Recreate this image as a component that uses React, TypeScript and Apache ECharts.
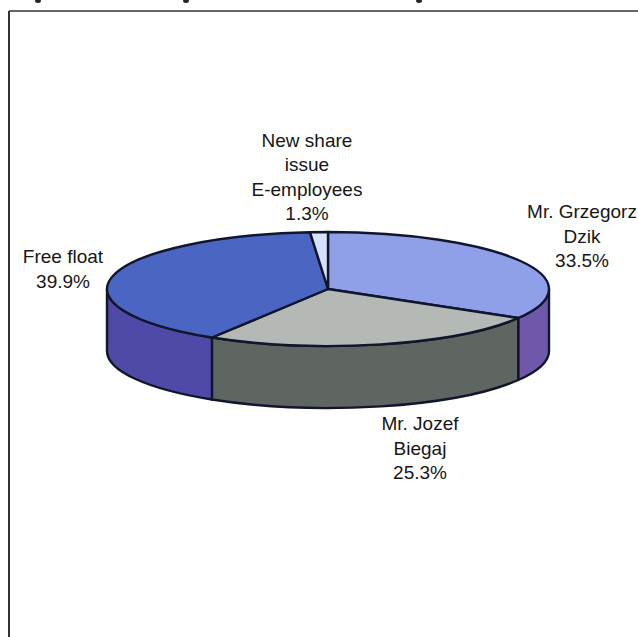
import React, { useEffect, useRef } from "react";
import * as echarts from "echarts";

// Shareholders, clockwise from twelve o'clock, with their stakes in percent.
const holders = ["Mr. Grzegorz\nDzik", "Mr. Jozef\nBiegaj", "Free float", "New share\nissue\nE-employees"];
const stakes = [33.5, 25.3, 39.9, 1.3];

// Face and wall fills per slice.
const topColors = ["#8f9fe8", "#b5b9b6", "#4a66c2", "#d6e2fb"];
const wallColors = ["#6f58aa", "#5f6661", "#4f49a8", "#8f9fc0"];

// Centre of each label block.
const labelCentres: [number, number][] = [
  [582, 236],
  [420, 448],
  [63, 269],
  [307, 177],
];

// Tails of a caption line that is cut off by the top of the page.
const captionTails = [38, 186, 419];

const PIE = { cx: 328, cy: 289, rx: 221, ry: 57, depth: 62 };
const INK = "#11162c";
const FONT = '19px "Liberation Sans", Arial, sans-serif';

const total = stakes.reduce((sum, v) => sum + v, 0);

// Rim point for an angle measured clockwise from the top of the ellipse.
const rim = (a: number, drop = 0): [number, number] => [
  PIE.cx + PIE.rx * Math.sin(a),
  PIE.cy - PIE.ry * Math.cos(a) + drop,
];

const arcTo = (from: number, to: number, drop: number, sweep: 0 | 1) => {
  const [x, y] = rim(to, drop);
  const large = Math.abs(to - from) > Math.PI ? 1 : 0;
  return `A ${PIE.rx} ${PIE.ry} 0 ${large} ${sweep} ${x} ${y}`;
};

const facePath = (a0: number, a1: number) => {
  const [x0, y0] = rim(a0);
  return `M ${PIE.cx} ${PIE.cy} L ${x0} ${y0} ${arcTo(a0, a1, 0, 1)} Z`;
};

// Only the part of a slice facing the viewer (lower half of the ellipse) has a wall.
const wallPath = (a0: number, a1: number) => {
  const from = Math.max(a0, Math.PI / 2);
  const to = Math.min(a1, (3 * Math.PI) / 2);
  if (to <= from) return null;
  const [x0, y0] = rim(from);
  const [x1, y1] = rim(to, PIE.depth);
  return `M ${x0} ${y0} ${arcTo(from, to, 0, 1)} L ${x1} ${y1} ${arcTo(to, from, PIE.depth, 0)} Z`;
};

const sliceStart = (index: number) =>
  (stakes.slice(0, index).reduce((sum, v) => sum + v, 0) / total) * Math.PI * 2;

const renderSlice = (_params: unknown, api: any) => {
  const i = api.value(0) as number;
  const value = api.value(1) as number;
  const a0 = sliceStart(i);
  const a1 = a0 + (value / total) * Math.PI * 2;
  const children: any[] = [];
  const wall = wallPath(a0, a1);
  if (wall) {
    children.push({
      type: "path",
      shape: { pathData: wall },
      style: { fill: wallColors[i], stroke: INK, lineWidth: 2.4, lineJoin: "round" },
    });
  }
  children.push({
    type: "path",
    shape: { pathData: facePath(a0, a1) },
    style: { fill: topColors[i], stroke: INK, lineWidth: 2.4, lineJoin: "round" },
  });
  const [lx, ly] = labelCentres[i];
  children.push({
    type: "text",
    style: {
      x: lx,
      y: ly,
      text: `${holders[i]}\n${value.toFixed(1)}%`,
      font: FONT,
      fill: "#161616",
      align: "center",
      verticalAlign: "middle",
      lineHeight: 24.5,
    },
  });
  return { type: "group", children };
};

export default function App() {
  const ref = useRef<HTMLDivElement>(null);

  useEffect(() => {
    document.body.style.margin = "0";
    document.body.style.overflow = "hidden";
    const chart = echarts.init(ref.current!, null, { renderer: "svg" });
    chart.setOption({
      animation: false,
      backgroundColor: "#ffffff",
      graphic: [
        // Frame around the plot; it runs off the right and bottom of the page.
        { type: "line", shape: { x1: 9, y1: 11, x2: 638, y2: 11 }, style: { stroke: "#333333", lineWidth: 1.5 } },
        { type: "line", shape: { x1: 9, y1: 11, x2: 9, y2: 637 }, style: { stroke: "#333333", lineWidth: 2 } },
        ...captionTails.map((x) => ({
          type: "ellipse",
          shape: { cx: x, cy: 1, rx: 3, ry: 2 },
          style: { fill: "#222222" },
        })),
      ],
      series: [
        {
          type: "custom",
          coordinateSystem: "none",
          renderItem: renderSlice,
          data: stakes.map((v, i) => [i, v]),
          silent: true,
        },
      ],
    });
    return () => chart.dispose();
  }, []);

  return <div ref={ref} style={{ width: 638, height: 637 }} />;
}
